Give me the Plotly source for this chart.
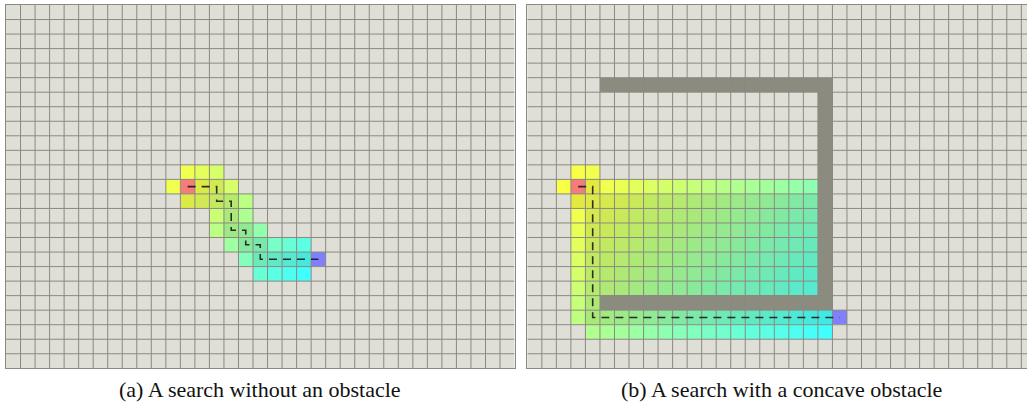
import numpy as np
import plotly.graph_objects as go

N_COLS, N_ROWS = 35, 25
CELL_PX = 14.53

# ---------------- (a) search without an obstacle ----------------
# explored cells per grid row: first column, path cost of each cell, cell state
# state: S start, G goal, o open (frontier), c closed (expanded)
a_rows = [11, 12, 13, 14, 15, 16, 17, 18]
a_first_col = [12, 11, 12, 14, 14, 15, 16, 17]
a_costs = [
    [1, 2, 3],
    [1, 0, 1, 2, 3],
    [1, 2, 3, 4, 5],
    [4, 5, 6],
    [5, 6, 7, 8],
    [7, 8, 9, 10, 11, 12],
    [9, 10, 11, 12, 13, 14],
    [11, 12, 13, 14],
]
a_states = ["ooo", "oScco", "cccco", "oco", "occo", "occooo", "occccG", "oooo"]
a_cost_max = 14
a_path_cols = [12, 14, 14, 15, 15, 16, 16, 17, 17, 21]
a_path_rows = [12, 12, 13, 13, 15, 15, 16, 16, 17, 17]

# ---------------- (b) search with a concave obstacle ----------------
b_rows = [11, 12, 13, 14, 15, 16, 17, 18, 19, 20, 21, 22]
b_first_col = [3, 2, 3, 3, 3, 3, 3, 3, 3, 3, 3, 4]
b_costs = [
    [1, 2],
    [1, 0, 1, 2, 3, 4, 5, 6, 7, 8, 9, 10, 11, 12, 13, 14, 15, 16],
    [1, 2, 3, 4, 5, 6, 7, 8, 9, 10, 11, 12, 13, 14, 15, 16, 17],
    [2, 3, 4, 5, 6, 7, 8, 9, 10, 11, 12, 13, 14, 15, 16, 17, 18],
    [3, 4, 5, 6, 7, 8, 9, 10, 11, 12, 13, 14, 15, 16, 17, 18, 19],
    [4, 5, 6, 7, 8, 9, 10, 11, 12, 13, 14, 15, 16, 17, 18, 19, 20],
    [5, 6, 7, 8, 9, 10, 11, 12, 13, 14, 15, 16, 17, 18, 19, 20, 21],
    [6, 7, 8, 9, 10, 11, 12, 13, 14, 15, 16, 17, 18, 19, 20, 21, 22],
    [7, 8, 9, 10, 11, 12, 13, 14, 15, 16, 17, 18, 19, 20, 21, 22, 23],
    [8, 9],
    [9, 10, 11, 12, 13, 14, 15, 16, 17, 18, 19, 20, 21, 22, 23, 24, 25, 26, 27],
    [11, 12, 13, 14, 15, 16, 17, 18, 19, 20, 21, 22, 23, 24, 25, 26, 27],
]
b_states = [
    "oo",
    "oScooooooooooooooo",
    "ccccccccccccccccc",
    "occcccccccccccccc",
    "occcccccccccccccc",
    "occcccccccccccccc",
    "occcccccccccccccc",
    "occcccccccccccccc",
    "occcccccccccccccc",
    "oc",
    "occcccccccccccccccG",
    "ooooooooooooooooo",
]
b_cost_max = 27
b_path_cols = [3, 4, 4, 21]
b_path_rows = [12, 12, 21, 21]

# obstacle walls: inclusive column / row spans
wall_col_from = [5, 20, 5]
wall_col_to = [20, 20, 20]
wall_row_from = [5, 5, 20]
wall_row_to = [5, 20, 20]

captions = ["(a) A search without an obstacle", "(b) A search with a concave obstacle"]

# ---------------- styling ----------------
BG_CELL = "#dfded7"
GRID = "#8a8a80"
WALL = "#8b8b7f"
OPEN_SCALE = [[0, "#ffff40"], [1, "#40ffff"]]
CLOSED_SCALE = [[0, "#e9e93b"], [1, "#3be9e9"]]
START = "#f77b7b"
GOAL = "#8080ff"

W, H = 1027, 405
TOP_PX, BOTTOM_PX = 5.0, 368.3
A_LEFT = 6.0
B_LEFT = 527.3


def layer_grids(rows, first_cols, costs, states, cost_max):
    shape = (N_ROWS, N_COLS)
    layers = {k: np.full(shape, np.nan) for k in "ocSG"}
    for r, c0, cs, st in zip(rows, first_cols, costs, states):
        assert len(cs) == len(st)
        for k, (g, s) in enumerate(zip(cs, st)):
            layers[s][r, c0 + k] = g / cost_max if s in "oc" else 1.0
    return layers


def heat(z, scale, xa, ya):
    return go.Heatmap(
        z=z, x0=0.5, dx=1, y0=0.5, dy=1, colorscale=scale, zmin=0, zmax=1,
        showscale=False, hoverinfo="skip", xaxis=xa, yaxis=ya,
    )


def grid_lines(xa, ya):
    xs, ys = [], []
    for c in range(1, N_COLS):
        xs += [c, c, None]
        ys += [0, N_ROWS, None]
    for r in range(1, N_ROWS):
        xs += [0, N_COLS, None]
        ys += [r, r, None]
    return go.Scatter(x=xs, y=ys, mode="lines", line=dict(color=GRID, width=1),
                      hoverinfo="skip", showlegend=False, xaxis=xa, yaxis=ya)


def path_trace(cols, rows, xa, ya):
    return go.Scatter(
        x=[c + 0.5 for c in cols], y=[r + 0.5 for r in rows], mode="lines",
        line=dict(color="rgba(25,25,25,0.9)", width=1.6, dash="8px,6px"),
        hoverinfo="skip", showlegend=False, xaxis=xa, yaxis=ya,
    )


fig = go.Figure()

panels = [
    ("x", "y", layer_grids(a_rows, a_first_col, a_costs, a_states, a_cost_max),
     a_path_cols, a_path_rows, False),
    ("x2", "y2", layer_grids(b_rows, b_first_col, b_costs, b_states, b_cost_max),
     b_path_cols, b_path_rows, True),
]

for xa, ya, layers, pc, pr, walls in panels:
    fig.add_trace(heat(layers["o"], OPEN_SCALE, xa, ya))
    fig.add_trace(heat(layers["c"], CLOSED_SCALE, xa, ya))
    fig.add_trace(heat(layers["S"], [[0, START], [1, START]], xa, ya))
    fig.add_trace(heat(layers["G"], [[0, GOAL], [1, GOAL]], xa, ya))
    fig.add_trace(grid_lines(xa, ya))
    if walls:
        wz = np.full((N_ROWS, N_COLS), np.nan)
        for c0, c1, r0, r1 in zip(wall_col_from, wall_col_to, wall_row_from, wall_row_to):
            wz[r0:r1 + 1, c0:c1 + 1] = 1.0
        fig.add_trace(heat(wz, [[0, WALL], [1, WALL]], xa, ya))
    fig.add_trace(path_trace(pc, pr, xa, ya))

y_dom = [1 - BOTTOM_PX / H, 1 - TOP_PX / H]
a_dom = [A_LEFT / W, (A_LEFT + N_COLS * CELL_PX) / W]
b_dom = [B_LEFT / W, 1.0]
b_visible_cols = (W - B_LEFT) / CELL_PX

axis_common = dict(showgrid=False, zeroline=False, showticklabels=False, ticks="",
                   showline=True, linecolor=GRID, linewidth=1, fixedrange=True)

fig.update_layout(
    width=W, height=H,
    margin=dict(l=0, r=0, t=0, b=0),
    paper_bgcolor="white", plot_bgcolor=BG_CELL,
    showlegend=False,
    xaxis=dict(domain=a_dom, range=[0, N_COLS], anchor="y", mirror=True, **axis_common),
    yaxis=dict(domain=y_dom, range=[N_ROWS, 0], anchor="x", mirror=True, **axis_common),
    xaxis2=dict(domain=b_dom, range=[0, b_visible_cols], anchor="y2", mirror=True, **axis_common),
    yaxis2=dict(domain=y_dom, range=[N_ROWS, 0], anchor="x2", mirror=False, **axis_common),
)

caption_centers = [(A_LEFT + N_COLS * CELL_PX / 2) / W, (B_LEFT + N_COLS * CELL_PX / 2) / W]
for text, cx in zip(captions, caption_centers):
    fig.add_annotation(
        text=text, x=cx, y=1 - 389 / H, xref="paper", yref="paper",
        xanchor="center", yanchor="middle", showarrow=False,
        font=dict(family="Liberation Serif, serif", size=22, color="#111111"),
    )

fig.write_html("out.html")
